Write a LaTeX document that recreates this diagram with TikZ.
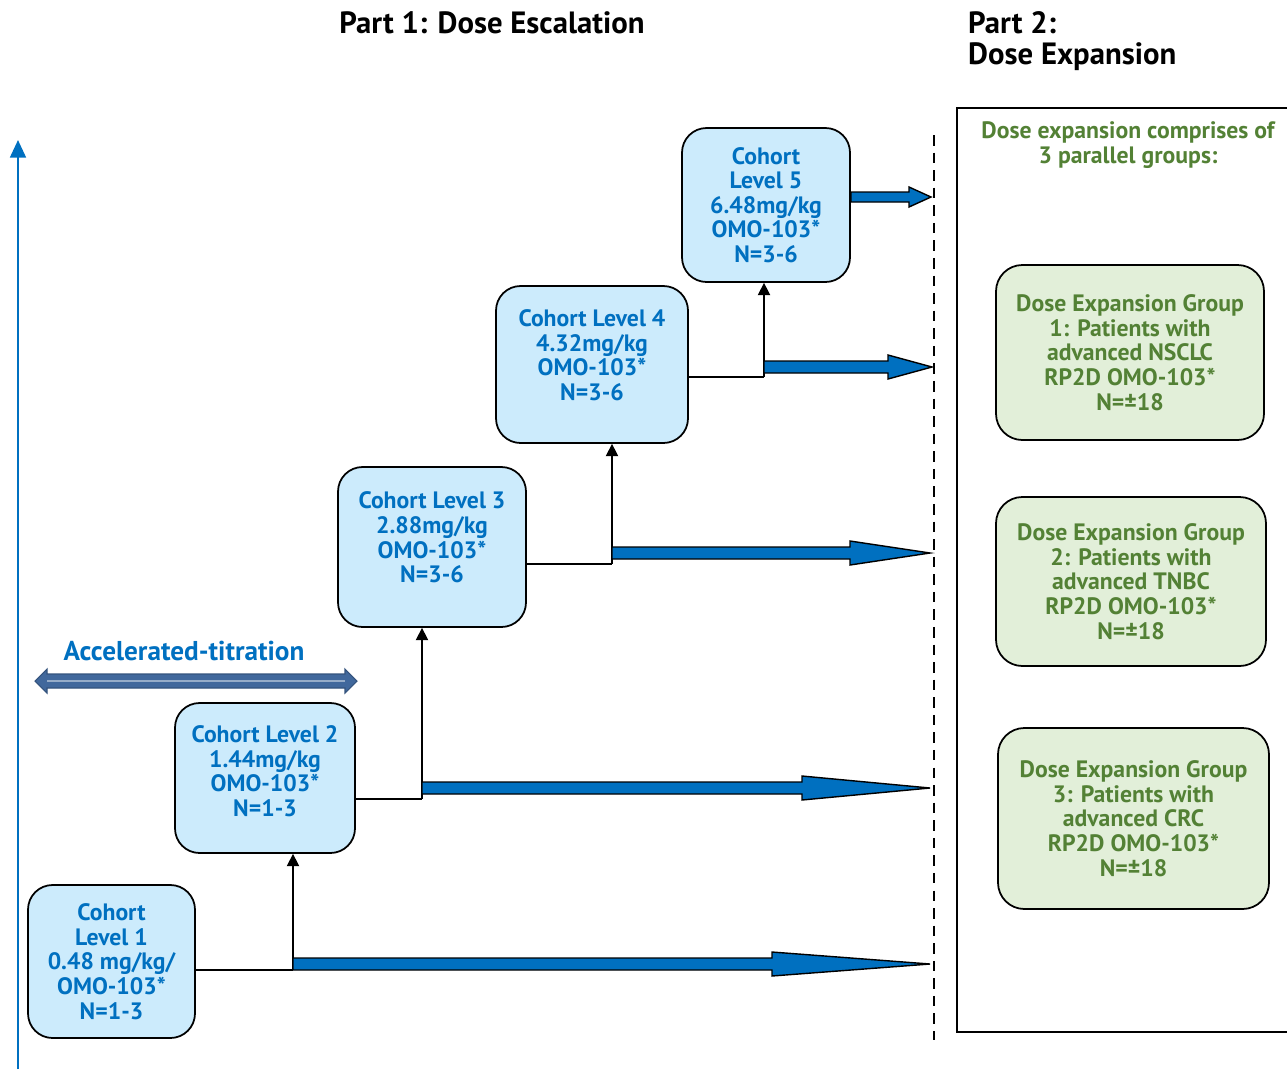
\documentclass[tikz,border=0pt]{standalone}
\usepackage{fontspec}
\setmainfont{PT Sans}
\usetikzlibrary{arrows.meta,calc}

\definecolor{doseblue}{HTML}{0070C0}
\definecolor{cohortfill}{HTML}{CCEBFC}
\definecolor{groupfill}{HTML}{E2EFD9}
\definecolor{groupgreen}{HTML}{538135}
\definecolor{titrblue}{HTML}{41689C}

\tikzset{
  cohort/.style={draw, line width=1pt, rounded corners=14pt, fill=cohortfill,
    text=doseblue, font=\bfseries\fontsize{13.5}{14}\selectfont, align=center,
    inner sep=0pt},
  group/.style={draw, line width=1pt, rounded corners=15pt, fill=groupfill,
    text=groupgreen, font=\bfseries\fontsize{13.5}{14}\selectfont, align=center,
    inner sep=0pt},
  flowarrow/.style={draw=black, line width=0.8pt, fill=doseblue, line join=miter},
  stepline/.style={line width=0.8pt},
  steparrow/.style={line width=0.8pt, -{Triangle[width=7pt,length=7pt]}},
  heading/.style={font=\bfseries\fontsize{17.5}{19}\selectfont}
}

% tapered blue arrow: from, to, head length (px)
\newcommand\doseflow[4][6]{%
  \draw[flowarrow] ($(#2)+(0,#1)$) -- ($(#3)+(-#4,#1)$) -- ($(#3)+(-#4,2*#1)$)
    -- (#3) -- ($(#3)+(-#4,-2*#1)$) -- ($(#3)+(-#4,-#1)$) -- ($(#2)+(0,-#1)$) -- cycle;}

\begin{document}
\begin{tikzpicture}[x=0.02cm,y=-0.02cm]
\useasboundingbox (0,0) rectangle (1287,1069);

% headings
\node[heading] (part1) at (492,23) {Part 1: Dose Escalation};
\node[heading, anchor=west] (part2a) at (962,23) {Part 2:};
\node[heading, anchor=west] (part2b) at (962,57) {Dose Expansion};

% dose axis
\coordinate (axbot) at (18,1069);
\coordinate (axtop) at (18,140);
\draw[doseblue, line width=1.3pt, -{Triangle[width=9pt,length=10pt]}] (axbot) -- (axtop);

% part 2 frame and dashed border
\draw[line width=1pt] (1292,108) -- (957,108) -- (957,1032) -- (1292,1032);
\coordinate (dtop) at (934,135);
\coordinate (dbot) at (934,1040);
\draw[dashed, line width=0.9pt, dash pattern=on 6pt off 4pt] (dtop) -- (dbot);

% cohorts
\node[cohort, minimum width=167*0.02cm, minimum height=153*0.02cm] (c1) at (111.5,961.5)
  {Cohort\\Level 1\\0.48 mg/kg/\\OMO-103*\\N=1-3};
\node[cohort, minimum width=180*0.02cm, minimum height=150*0.02cm] (c2) at (265,778)
  {Cohort Level 2\\1.44mg/kg\\OMO-103*\\N=1-3\\[-6pt]};
\node[cohort, minimum width=188*0.02cm, minimum height=160*0.02cm] (c3) at (432,547)
  {Cohort Level 3\\2.88mg/kg\\OMO-103*\\N=3-6\\[-3pt]};
\node[cohort, minimum width=192*0.02cm, minimum height=157*0.02cm] (c4) at (592,364.5)
  {Cohort Level 4\\4.32mg/kg\\OMO-103*\\N=3-6\\[-3pt]};
\node[cohort, minimum width=168*0.02cm, minimum height=154*0.02cm] (c5) at (766,205)
  {Cohort\\Level 5\\6.48mg/kg\\OMO-103*\\N=3-6};

% expansion groups
\node[text=groupgreen, font=\bfseries\fontsize{13.5}{14}\selectfont, align=center] (intro) at (1128,145)
  {Dose expansion comprises of\\3 parallel groups:};
\node[group, minimum width=268*0.02cm, minimum height=175*0.02cm] (g1) at (1130,352.5)
  {Dose Expansion Group\\1: Patients with\\advanced NSCLC\\RP2D OMO-103*\\N=±18};
\node[group, minimum width=270*0.02cm, minimum height=169*0.02cm] (g2) at (1131,581.5)
  {Dose Expansion Group\\2: Patients with\\advanced TNBC\\RP2D OMO-103*\\N=±18};
\node[group, minimum width=271*0.02cm, minimum height=181*0.02cm] (g3) at (1133.5,818.5)
  {Dose Expansion Group\\3: Patients with\\advanced CRC\\RP2D OMO-103*\\N=±18};

% accelerated titration
\node[text=doseblue, font=\bfseries\fontsize{15.5}{17}\selectfont] (acc) at (184,651) {Accelerated-titration};
\coordinate (accl) at (35,681);
\coordinate (accr) at (357,681);
\draw[fill=titrblue, draw=titrblue!80!black, line width=0.6pt, line join=miter]
  (accl) -- ++(12,-12) -- ++(0,5) -- ($(accr)+(-12,-7)$) -- ++(0,-5) -- (accr)
  -- ++(-12,12) -- ++(0,-5) -- ($(accl)+(12,7)$) -- ++(0,5) -- cycle;
\draw[titrblue!55!white, line width=1.4pt] ($(accl)+(12,0)$) -- ($(accr)+(-12,0)$);

% step 1 -> 2
\coordinate (j1) at (293,970);
\coordinate (s1) at (293,964);
\coordinate (e1) at (930,964);
\draw[stepline] (c1.east |- j1) -- (j1);
\draw[steparrow] (j1) -- (j1 |- c2.south);
\doseflow{s1}{e1}{158}

% step 2 -> 3
\coordinate (j2) at (422,799);
\coordinate (s2) at (422,788);
\coordinate (e2) at (930,788);
\draw[stepline] (c2.east |- j2) -- (j2);
\draw[steparrow] (j2) -- (j2 |- c3.south);
\doseflow{s2}{e2}{128}

% step 3 -> 4
\coordinate (j3) at (612,564);
\coordinate (s3) at (612,553);
\coordinate (e3) at (930,553);
\draw[stepline] (c3.east |- j3) -- (j3);
\draw[steparrow] (j3) -- (j3 |- c4.south);
\doseflow{s3}{e3}{80}

% step 4 -> 5
\coordinate (j4) at (764,377);
\coordinate (s4) at (764,367);
\coordinate (e4) at (932,367);
\draw[stepline] (c4.east |- j4) -- (j4);
\draw[steparrow] (j4) -- (j4 |- c5.south);
\doseflow{s4}{e4}{44}

% level 5 out
\coordinate (e5) at (931,197);
\doseflow[5]{c5.east |- e5}{e5}{22}

\end{tikzpicture}
\end{document}
